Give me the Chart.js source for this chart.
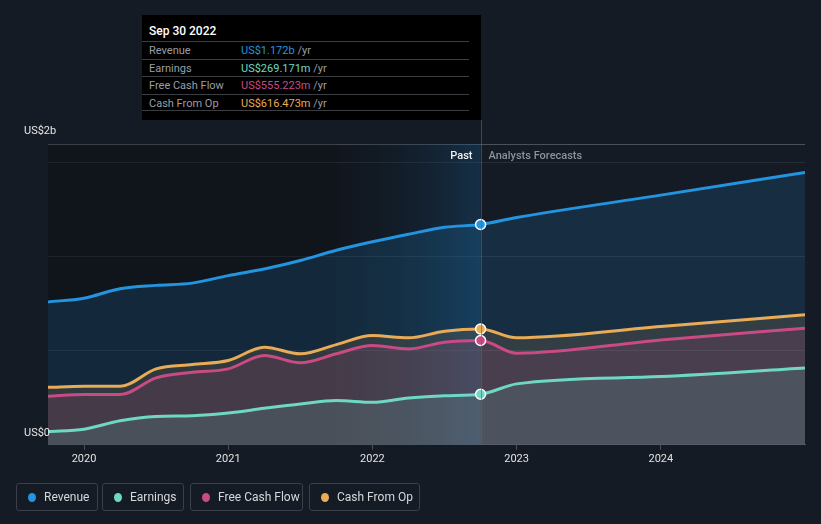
<!DOCTYPE html>
<html>
<head>
<meta charset="utf-8">
<script src="https://cdn.jsdelivr.net/npm/chart.js@4"></script>
<style>
  html,body{margin:0;padding:0;background:#151b24;}
  #wrap{position:relative;width:821px;height:524px;overflow:hidden;font-family:Roboto,"Noto Sans",sans-serif;}
  canvas{position:absolute;left:0;top:0;}
  #tip{position:absolute;left:142px;top:15px;width:339px;height:105px;background:#000;}
  #tip .title{position:absolute;left:7px;top:9px;color:#fff;font-size:12px;font-weight:500;}
  #tip .row{position:absolute;left:0;width:327px;height:17px;border-top:1px solid #3a3d42;font-size:11px;line-height:17px;}
  #tip .row .lab{position:absolute;left:7px;color:#9a9ea4;}
  #tip .row .val{position:absolute;left:99px;}
  #tip .row .yr{color:#9a9ea4;}
  #tip .last{position:absolute;left:0;top:95px;width:327px;border-top:1px solid #3a3d42;}
  #legend{position:absolute;left:16px;top:483px;height:28px;}
  .lg{position:absolute;top:0;border:1px solid #3a4049;border-radius:3px;color:#d6d8db;font-size:12px;line-height:26px;box-sizing:border-box;height:28px;}
  .lg .dot{position:absolute;left:11px;top:9px;width:8px;height:9px;border-radius:50%;}
  .lg .t{position:absolute;left:27px;}
</style>
</head>
<body>
<div id="wrap">
  <canvas id="c" width="821" height="524"></canvas>
  <div id="tip"></div>
  <div id="legend"></div>
</div>
<script>
// ---- data (values in US$ billions, x in fractional years) ----
const pastX      = [2019.75, 2020.0, 2020.25, 2020.5, 2020.75, 2021.0, 2021.25, 2021.5, 2021.75, 2022.0, 2022.25, 2022.5, 2022.75];
const forecastX  = [2023.0, 2024.0, 2025.0];

const revenuePast   = [0.76, 0.78, 0.83, 0.848, 0.86, 0.90, 0.935, 0.98, 1.035, 1.08, 1.12, 1.157, 1.172];
const earningsPast  = [0.071, 0.083, 0.128, 0.151, 0.155, 0.169, 0.194, 0.217, 0.235, 0.226, 0.249, 0.261, 0.269];
const fcfPast       = [0.258, 0.267, 0.267, 0.356, 0.386, 0.404, 0.475, 0.436, 0.484, 0.528, 0.510, 0.546, 0.555];
const cfoPast       = [0.306, 0.311, 0.311, 0.404, 0.427, 0.448, 0.519, 0.484, 0.533, 0.581, 0.569, 0.604, 0.616];

const revenueFc     = [1.209, 1.328, 1.449];
const earningsFc    = [0.324, 0.363, 0.409];
const fcfFc         = [0.487, 0.558, 0.620];
const cfoFc         = [0.569, 0.629, 0.692];

const xTicks = [2020, 2021, 2022, 2023, 2024];
const yGridValues = [0, 0.5, 1.0, 1.5, 1.6];
const yLabelTop = "US$2b";
const yLabelBottom = "US$0";

const seriesNames  = ["Revenue", "Earnings", "Free Cash Flow", "Cash From Op"];
const seriesColors = ["#2394df", "#6fd8c4", "#c94a84", "#e8ab58"];
const tipTitle  = "Sep 30 2022";
const tipValues = ["US$1.172b", "US$269.171m", "US$555.223m", "US$616.473m"];

const nowX = 2022.75;
const bandStartX = 2021.75;

// ---- build ----
const allX = pastX.concat(forecastX);
function pts(p, f){ return allX.map((x,i)=>({x:x, y: i < p.length ? p[i] : f[i-p.length]})); }
const nowIdx = pastX.length - 1;

function hexA(h,a){ const n=parseInt(h.slice(1),16); return `rgba(${n>>16},${(n>>8)&255},${n&255},${a})`; }
function ds(name, color, data, order, fillA){
  return {
    label:name, data:data, borderColor:color, borderWidth:3,
    backgroundColor: hexA(color, fillA), fill:'origin', order:order,
    cubicInterpolationMode:'monotone',
    pointRadius: ctx => ctx.dataIndex === nowIdx ? 5 : 0,
    pointHoverRadius:0,
    pointBackgroundColor: color, pointBorderColor:'#ffffff', pointBorderWidth:1.5
  };
}

const datasets = [
  ds(seriesNames[0], seriesColors[0], pts(revenuePast, revenueFc), 4, 0.16),
  ds(seriesNames[3], seriesColors[3], pts(cfoPast, cfoFc), 3, 0.13),
  ds(seriesNames[2], seriesColors[2], pts(fcfPast, fcfFc), 2, 0.15),
  ds(seriesNames[1], seriesColors[1], pts(earningsPast, earningsFc), 1, 0.14)
];

const bgPlugin = {
  id:'bg',
  beforeDatasetsDraw(chart){
    const {ctx, chartArea:a, scales:{x}} = chart;
    const xb = x.getPixelForValue(bandStartX), xn = x.getPixelForValue(nowX);
    ctx.save();
    ctx.fillStyle = 'rgba(0,0,0,0.22)';
    ctx.fillRect(a.left, a.top, xb - a.left, a.bottom - a.top);
    const g = ctx.createLinearGradient(xb,0,xn,0);
    g.addColorStop(0,'rgba(0,0,0,0.15)');
    g.addColorStop(1,'rgba(24,86,135,0.35)');
    ctx.fillStyle = g;
    ctx.fillRect(xb, a.top, xn - xb, a.bottom - a.top);
    ctx.restore();
  },
  afterDatasetsDraw(chart){
    const {ctx, chartArea:a, scales:{x}} = chart;
    const xn = Math.round(x.getPixelForValue(nowX)) + 0.5;
    ctx.save();
    ctx.strokeStyle = 'rgba(60,110,150,0.6)';
    ctx.lineWidth = 1;
    ctx.beginPath(); ctx.moveTo(xn, 120); ctx.lineTo(xn, a.bottom); ctx.stroke();
    ctx.font = '500 11px Roboto, sans-serif';
    ctx.textBaseline = 'middle';
    ctx.textAlign = 'right'; ctx.fillStyle = '#f0f0f0';
    ctx.fillText('Past', xn - 9, a.top + 12);
    ctx.textAlign = 'left'; ctx.fillStyle = '#8c9198';
    ctx.fillText('Analysts Forecasts', xn + 7, a.top + 12);
    ctx.font = '11px Roboto, sans-serif';
    ctx.fillStyle = '#e6e6e6';
    ctx.fillText(yLabelTop, 24, a.top - 13);
    ctx.fillText(yLabelBottom, 24, a.bottom - 12);
    ctx.restore();
  }
};

new Chart(document.getElementById('c'), {
  type:'line',
  data:{datasets:datasets},
  options:{
    responsive:false, animation:false, events:[],
    layout:{padding:{left:48, right:16, top:144, bottom:55}},
    plugins:{legend:{display:false}, tooltip:{enabled:false}},
    scales:{
      x:{
        type:'linear', min:2019.75, max:2025.0,
        afterBuildTicks: s => { s.ticks = xTicks.map(v=>({value:v})); },
        ticks:{color:'#e2e2e2', font:{family:'Roboto', size:11}, padding:3, callback:v=>String(v), maxRotation:0},
        grid:{drawOnChartArea:false, drawTicks:true, tickLength:5, color:'#4a515a'},
        border:{display:true, color:'#4a515a', width:1}
      },
      y:{
        min:0, max:1.6,
        afterBuildTicks: s => { s.ticks = yGridValues.map(v=>({value:v})); },
        ticks:{display:false},
        grid:{drawTicks:false, color: c => c.tick.value >= 1.6 ? '#4a515a' : (c.tick.value === 0 ? 'rgba(0,0,0,0)' : '#272e37')},
        border:{display:false}
      }
    }
  },
  plugins:[bgPlugin]
});

// ---- tooltip box ----
const tip = document.getElementById('tip');
let h = `<div class="title">${tipTitle}</div>`;
[0,1,2,3].forEach((k,i)=>{
  h += `<div class="row" style="top:${26 + i*17.5}px"><span class="lab">${seriesNames[k]}</span><span class="val"><span style="color:${seriesColors[k]}">${tipValues[k]}</span> <span class="yr">/yr</span></span></div>`;
});
h += `<div class="last"></div>`;
tip.innerHTML = h;

// ---- legend ----
const lgPos = [[0,82],[86,82],[174,113],[293,111]];
const lg = document.getElementById('legend');
lg.innerHTML = seriesNames.map((n,i)=>`<div class="lg" style="left:${lgPos[i][0]}px;width:${lgPos[i][1]}px"><span class="dot" style="background:${seriesColors[i]}"></span><span class="t">${n}</span></div>`).join('');
</script>
</body>
</html>
